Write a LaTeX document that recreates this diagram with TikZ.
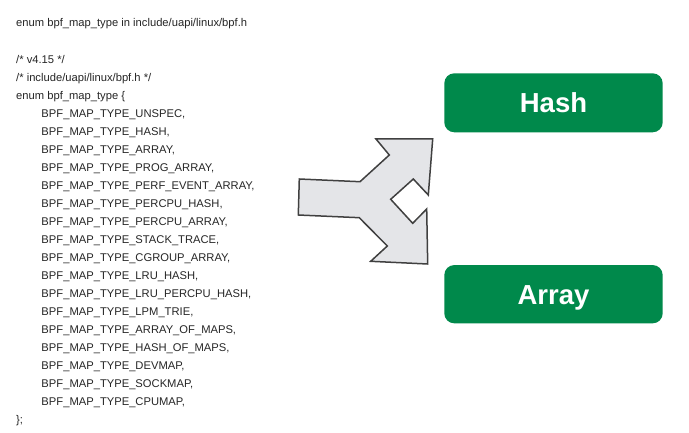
\documentclass[tikz,border=0pt]{standalone}
\usepackage{fontspec}
\setmainfont{Liberation Sans}
\definecolor{boxgreen}{RGB}{0,137,75}
\definecolor{arrowfill}{RGB}{228,229,232}
\definecolor{arrowline}{RGB}{64,64,64}
\begin{document}
\begin{tikzpicture}[x=1pt,y=-1pt,
  code/.style={anchor=base west,inner sep=0pt,font=\fontsize{11.2}{13}\selectfont,text=black!85},
  mapbox/.style={draw=none,fill=boxgreen,rounded corners=10pt,minimum width=218.4pt,
    inner sep=0pt,text height=19.7pt,text depth=0pt,text=white,font=\fontsize{27.5}{30}\selectfont\bfseries},
  forkarrow/.style={draw=arrowline,fill=arrowfill,line width=1.5pt,line join=miter}]
\useasboundingbox (0,0) rectangle (689,433);
\fill[white] (0,0) rectangle (689,433);
% code listing
\node[code] (t0) at (16,26.8) {enum bpf\_map\_type in include/uapi/linux/bpf.h};
\node[code] (c1) at (16,63.3) {/* v4.15 */};
\node[code] (c2) at (16,81.3) {/* include/uapi/linux/bpf.h */};
\node[code] (c3) at (16,99.5) {enum bpf\_map\_type \{};
\foreach \name [count=\i] in {UNSPEC,HASH,ARRAY,PROG\_ARRAY,PERF\_EVENT\_ARRAY,PERCPU\_HASH,PERCPU\_ARRAY,STACK\_TRACE,CGROUP\_ARRAY,LRU\_HASH,LRU\_PERCPU\_HASH,LPM\_TRIE,ARRAY\_OF\_MAPS,HASH\_OF\_MAPS,DEVMAP,SOCKMAP,CPUMAP}{
  \node[code] (e\i) at (41.3,{99.7+18*\i}) {BPF\_MAP\_TYPE\_\name,};
}
\node[code] (cend) at (16,423.5) {\};};
% fork arrow
\draw[forkarrow] (299.3,179) -- (360,181.7) -- (389.3,155) -- (376,139) -- (432.7,139)
  -- (428.3,195) -- (413.3,179) -- (390.7,199.3) -- (412.7,223.3) -- (426.7,209)
  -- (427.7,264) -- (370.7,261.3) -- (387.3,246) -- (359.3,217.7) -- (298.3,215) -- cycle;
% boxes
\node[mapbox,minimum height=59pt] (hash) at (553.5,102.8) {Hash};
\node[mapbox,minimum height=58.3pt] (array) at (553.5,294.2) {Array};
\end{tikzpicture}
\end{document}
